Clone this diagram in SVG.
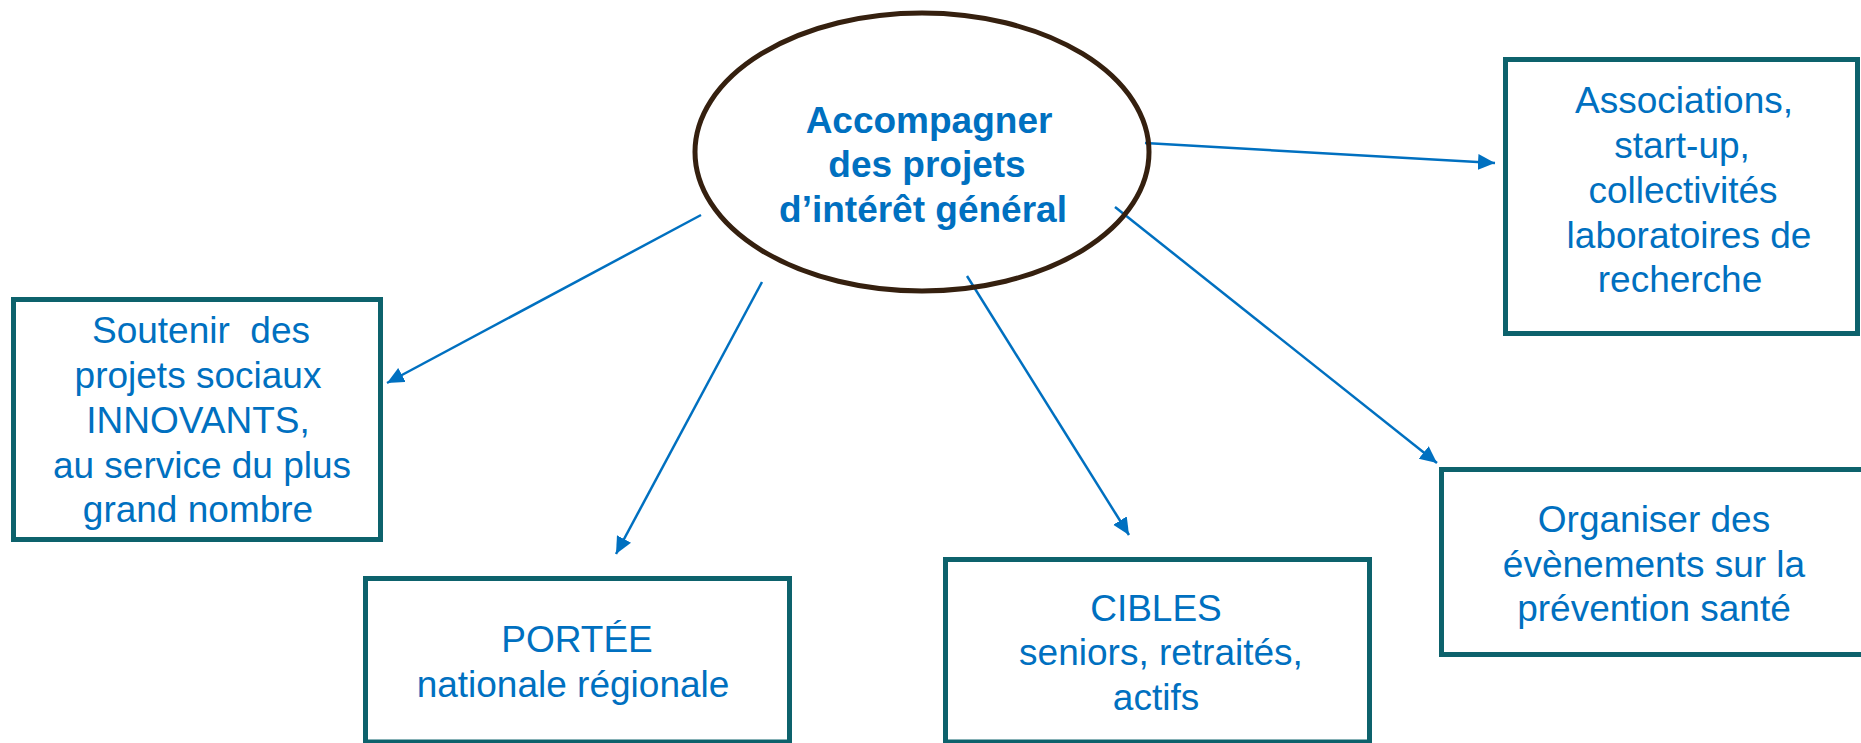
<svg xmlns="http://www.w3.org/2000/svg" width="1861" height="743" viewBox="0 0 1861 743">
  <style>
    .box { fill: #ffffff; stroke: #0d626c; stroke-width: 5; }
    .t { font-family: "Liberation Sans", Arial, sans-serif; font-size: 37px; fill: #0070c0; text-anchor: middle; white-space: pre; }
    .tb { font-weight: bold; }
    .conn { stroke: #0070c0; stroke-width: 2.5; fill: none; marker-end: url(#arrow); }
  </style>
  <defs>
    <marker id="arrow" markerUnits="userSpaceOnUse" markerWidth="19" markerHeight="17" refX="17" refY="8" orient="auto">
      <path d="M0,0 L17,8 L0,16 Z" fill="#0070c0"/>
    </marker>
  </defs>
  <rect x="0" y="0" width="1861" height="743" fill="#ffffff"/>

  <g id="connectors">
    <line class="conn" x1="701" y1="215" x2="387" y2="383"/>
    <line class="conn" x1="762" y1="282" x2="616" y2="554"/>
    <line class="conn" x1="967" y1="276" x2="1129" y2="535"/>
    <line class="conn" x1="1115" y1="207" x2="1437" y2="463"/>
    <line class="conn" x1="1145" y1="143" x2="1495" y2="163"/>
  </g>

  <g id="center">
    <ellipse cx="922" cy="152" rx="227" ry="139" fill="none" stroke="#35200f" stroke-width="5"/>
    <text class="t tb" x="929" y="133">Accompagner</text>
    <text class="t tb" x="927" y="177">des projets</text>
    <text class="t tb" x="923" y="222">d’intérêt général</text>
  </g>

  <g id="soutenir">
    <rect class="box" x="13.5" y="299.5" width="367" height="240"/>
    <text class="t" x="201" y="343">Soutenir  des</text>
    <text class="t" x="198" y="388">projets sociaux</text>
    <text class="t" x="198" y="433">INNOVANTS,</text>
    <text class="t" x="202" y="478">au service du plus</text>
    <text class="t" x="198" y="522">grand nombre</text>
  </g>

  <g id="portee">
    <rect class="box" x="365.5" y="578.5" width="424" height="163.5"/>
    <text class="t" x="577" y="652">PORTÉE</text>
    <text class="t" x="573" y="697">nationale régionale</text>
  </g>

  <g id="cibles">
    <rect class="box" x="945.5" y="559.5" width="424" height="182.5"/>
    <text class="t" x="1156" y="621">CIBLES</text>
    <text class="t" x="1161" y="665">seniors, retraités,</text>
    <text class="t" x="1156" y="710">actifs</text>
  </g>

  <g id="organiser">
    <rect class="box" x="1441.5" y="469.5" width="430" height="185"/>
    <text class="t" x="1654" y="532">Organiser des</text>
    <text class="t" x="1654" y="577">évènements sur la</text>
    <text class="t" x="1654" y="621">prévention santé</text>
  </g>

  <g id="associations">
    <rect class="box" x="1505.5" y="59.5" width="352" height="274"/>
    <text class="t" x="1684" y="113">Associations,</text>
    <text class="t" x="1682" y="158">start-up,</text>
    <text class="t" x="1683" y="203">collectivités</text>
    <text class="t" x="1689" y="248">laboratoires de</text>
    <text class="t" x="1680" y="292">recherche</text>
  </g>
</svg>
